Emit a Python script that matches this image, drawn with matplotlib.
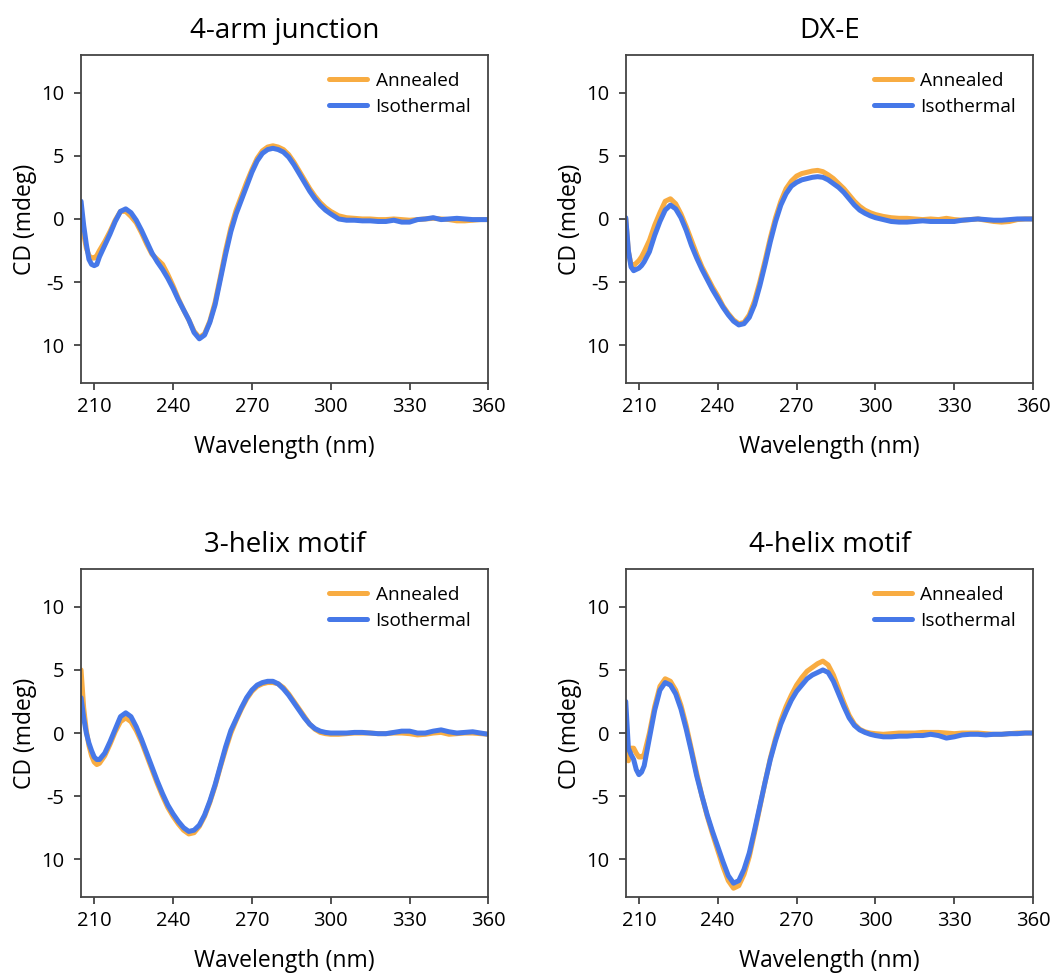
import numpy as np
import matplotlib.pyplot as plt

plt.rcParams['font.family'] = ['Open Sans', 'DejaVu Sans']

# longitudes de onda (nm)
wl = [205, 206, 207, 208, 209, 210, 211, 212, 214, 216, 218, 220, 222, 224, 226, 228,
      230, 232, 234, 236, 238, 240, 242, 244, 246, 248, 250, 252, 254, 256, 258, 260,
      262, 264, 266, 268, 270, 272, 274, 276, 278, 280, 282, 284, 286, 288, 290, 292,
      294, 296, 298, 300, 303, 306, 309, 312, 315, 318, 321, 324, 327, 330, 333, 336,
      339, 342, 345, 348, 351, 354, 357, 360]

# 4-arm junction
arm4_ann = [0.3, -1.2, -2.3, -2.9, -3.1, -3.1, -2.9, -2.5, -1.8, -1.0, -0.1, 0.6, 0.6, 0.2, -0.3, -1.1,
            -2.0, -2.8, -3.2, -3.6, -4.4, -5.3, -6.3, -7.2, -8.0, -8.9, -9.4, -9.1, -8.1, -6.6, -4.6, -2.5,
            -0.7, 0.7, 1.8, 2.9, 3.9, 4.8, 5.4, 5.7, 5.8, 5.7, 5.5, 5.1, 4.5, 3.8, 3.1, 2.4,
            1.8, 1.3, 0.9, 0.6, 0.25, 0.1, 0.05, 0.0, 0.0, -0.05, -0.05, 0.0, -0.05, -0.1, -0.05, 0.0,
            0.05, 0.0, -0.05, -0.15, -0.15, -0.1, -0.05, -0.05]
arm4_iso = [1.4, -0.5, -2.0, -3.2, -3.6, -3.7, -3.6, -3.0, -2.1, -1.2, -0.2, 0.6, 0.8, 0.5, -0.1, -0.9,
            -1.8, -2.7, -3.4, -4.0, -4.7, -5.5, -6.4, -7.2, -8.0, -9.0, -9.5, -9.2, -8.2, -6.8, -4.8, -2.8,
            -1.0, 0.4, 1.5, 2.6, 3.7, 4.6, 5.2, 5.5, 5.6, 5.5, 5.3, 4.9, 4.3, 3.6, 2.9, 2.2,
            1.6, 1.1, 0.7, 0.4, 0.0, -0.1, -0.1, -0.15, -0.15, -0.2, -0.2, -0.1, -0.25, -0.25, -0.05, 0.0,
            0.1, -0.05, 0.0, 0.05, 0.0, -0.05, -0.05, -0.05]

# DX-E
dxe_ann = [0.0, -2.6, -3.6, -3.7, -3.5, -3.3, -3.0, -2.6, -1.7, -0.5, 0.5, 1.4, 1.6, 1.2, 0.4, -0.6,
           -1.7, -2.8, -3.8, -4.6, -5.4, -6.1, -6.9, -7.5, -8.0, -8.3, -8.2, -7.6, -6.5, -5.0, -3.3, -1.5,
           0.1, 1.4, 2.4, 3.0, 3.4, 3.6, 3.7, 3.8, 3.85, 3.75, 3.5, 3.2, 2.8, 2.4, 1.9, 1.4,
           1.0, 0.7, 0.5, 0.35, 0.2, 0.1, 0.05, 0.05, 0.0, -0.05, 0.0, -0.05, 0.05, -0.05, -0.1, -0.05,
           0.0, -0.1, -0.2, -0.25, -0.2, -0.05, 0.0, 0.0]
dxe_iso = [0.1, -2.5, -3.8, -4.1, -4.0, -3.9, -3.7, -3.4, -2.6, -1.3, -0.2, 0.7, 1.1, 0.8, 0.1, -0.9,
           -2.1, -3.1, -4.0, -4.8, -5.6, -6.3, -7.0, -7.6, -8.1, -8.4, -8.3, -7.8, -6.8, -5.3, -3.6, -1.8,
           -0.2, 1.1, 2.0, 2.6, 2.9, 3.1, 3.2, 3.3, 3.35, 3.3, 3.1, 2.8, 2.5, 2.1, 1.6, 1.1,
           0.7, 0.45, 0.25, 0.1, -0.05, -0.2, -0.25, -0.25, -0.2, -0.15, -0.2, -0.2, -0.2, -0.2, -0.1, -0.05,
           0.0, -0.05, -0.1, -0.1, -0.05, 0.0, 0.0, 0.0]

# 3-helix motif
h3_ann = [5.0, 2.0, 0.2, -1.0, -1.8, -2.3, -2.5, -2.4, -1.8, -0.9, 0.1, 0.9, 1.2, 0.9, 0.2, -0.7,
          -1.8, -2.9, -4.0, -5.0, -5.9, -6.6, -7.2, -7.7, -8.0, -7.9, -7.4, -6.6, -5.5, -4.2, -2.7, -1.3,
          0.0, 1.0, 1.9, 2.7, 3.3, 3.7, 3.9, 4.0, 4.0, 3.9, 3.6, 3.1, 2.5, 1.9, 1.3, 0.7,
          0.3, 0.05, -0.05, -0.1, -0.1, -0.05, 0.0, 0.0, 0.0, -0.05, -0.05, 0.0, 0.0, -0.05, -0.15, -0.1,
          0.0, 0.05, -0.1, -0.05, 0.0, 0.0, -0.05, -0.1]
h3_iso = [2.8, 1.2, 0.0, -0.8, -1.4, -1.9, -2.1, -2.1, -1.6, -0.7, 0.3, 1.3, 1.6, 1.3, 0.5, -0.5,
          -1.6, -2.7, -3.8, -4.8, -5.7, -6.4, -7.0, -7.5, -7.8, -7.7, -7.3, -6.5, -5.4, -4.1, -2.6, -1.1,
          0.2, 1.1, 2.0, 2.8, 3.4, 3.8, 4.0, 4.1, 4.1, 3.9, 3.5, 3.0, 2.4, 1.8, 1.2, 0.7,
          0.35, 0.15, 0.05, 0.0, 0.0, 0.0, 0.05, 0.05, 0.0, -0.05, -0.05, 0.05, 0.15, 0.15, 0.0, 0.0,
          0.15, 0.25, 0.1, 0.0, 0.05, 0.1, 0.0, -0.1]

# 4-helix motif
h4_ann = [0.0, -2.2, -1.2, -1.2, -1.6, -1.9, -1.9, -1.7, 0.0, 2.1, 3.7, 4.3, 4.1, 3.4, 2.2, 0.6,
          -1.3, -3.2, -5.0, -6.6, -8.0, -9.3, -10.6, -11.7, -12.3, -12.1, -11.2, -9.8, -7.9, -5.9, -3.9, -2.0,
          -0.4, 1.0, 2.1, 3.0, 3.8, 4.4, 4.9, 5.2, 5.5, 5.7, 5.4, 4.6, 3.5, 2.4, 1.4, 0.7,
          0.3, 0.1, 0.0, -0.05, -0.1, -0.05, 0.0, 0.0, 0.0, 0.05, 0.05, 0.05, 0.0, -0.05, 0.0, 0.0,
          0.0, -0.05, -0.1, -0.1, -0.05, 0.0, 0.0, 0.0]
h4_iso = [2.5, -1.2, -1.7, -2.1, -2.9, -3.3, -3.1, -2.6, -0.4, 1.8, 3.4, 4.0, 3.8, 3.1, 1.9, 0.3,
          -1.5, -3.4, -5.0, -6.5, -7.8, -9.0, -10.2, -11.3, -11.9, -11.7, -10.8, -9.5, -7.7, -5.8, -3.9, -2.1,
          -0.6, 0.7, 1.7, 2.6, 3.3, 3.8, 4.3, 4.6, 4.8, 5.0, 4.8, 4.1, 3.1, 2.1, 1.2, 0.6,
          0.25, 0.05, -0.1, -0.2, -0.3, -0.3, -0.25, -0.25, -0.2, -0.2, -0.1, -0.2, -0.4, -0.3, -0.15, -0.1,
          -0.1, -0.15, -0.1, -0.1, -0.05, -0.05, 0.0, 0.0]

titulos = ['4-arm junction', 'DX-E', '3-helix motif', '4-helix motif']
anneal = [arm4_ann, dxe_ann, h3_ann, h4_ann]
iso = [arm4_iso, dxe_iso, h3_iso, h4_iso]

yticks = [10, 5, 0, -5, -10]
ytick_labels = ['10', '5', '0', '-5', '10']
xticks = [210, 240, 270, 300, 330, 360]

col_ann = '#F8AC42'
col_iso = '#4678E8'

fig = plt.figure(figsize=(10.54, 9.74), dpi=100)

# posiciones de los paneles en fraccion de figura
pos = [(0.0769, 0.6068), (0.5937, 0.6068), (0.0769, 0.0790), (0.5937, 0.0790)]
w, h = 0.3865, 0.3368

for i in range(4):
    ax = fig.add_axes([pos[i][0], pos[i][1], w, h])
    ax.plot(wl, anneal[i], color=col_ann, lw=3.6, label='Annealed', solid_capstyle='round')
    ax.plot(wl, iso[i], color=col_iso, lw=3.6, label='Isothermal', solid_capstyle='round')
    ax.set_xlim(205, 360)
    ax.set_ylim(-13, 13)
    ax.set_xticks(xticks)
    ax.set_yticks(yticks)
    ax.set_yticklabels(ytick_labels)
    ax.tick_params(labelsize=14.5, length=5, width=1.2, color='#333333')
    ax.tick_params(axis='x', pad=5)
    ax.tick_params(axis='y', pad=7)
    for s in ax.spines.values():
        s.set_linewidth(1.3)
        s.set_color('#444444')
    ax.set_title(titulos[i], fontsize=20, pad=12)
    ax.set_xlabel('Wavelength (nm)', fontsize=16.5, labelpad=13)
    ax.set_ylabel('CD (mdeg)', fontsize=16.5, labelpad=3)
    ax.legend(loc='upper right', frameon=False, fontsize=13.7, handlelength=2.0,
              handletextpad=0.45, labelspacing=0.4, borderaxespad=0.6, borderpad=0.3)

plt.savefig('out.png')
plt.close()
